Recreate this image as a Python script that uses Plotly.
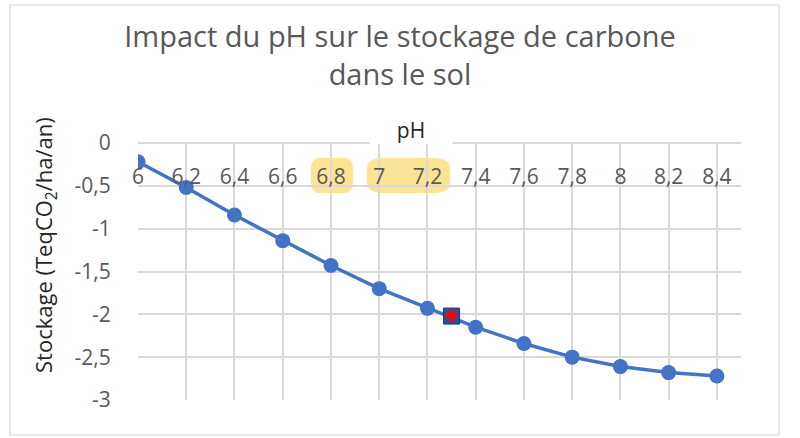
import plotly.graph_objects as go

ph = [6.0, 6.2, 6.4, 6.6, 6.8, 7.0, 7.2, 7.4, 7.6, 7.8, 8.0, 8.2, 8.4]
stockage = [-0.22, -0.52, -0.84, -1.14, -1.43, -1.70, -1.93, -2.15, -2.34, -2.50, -2.61, -2.68, -2.72]
point_ph = [7.3]
point_stock = [-2.02]

x_tickvals = [6.0, 6.2, 6.4, 6.6, 6.8, 7.0, 7.2, 7.4, 7.6, 7.8, 8.0, 8.2, 8.4]
x_ticktext = ["6", "6,2", "6,4", "6,6", "6,8", "7", "7,2", "7,4", "7,6", "7,8", "8", "8,2", "8,4"]
y_tickvals = [0, -0.5, -1, -1.5, -2, -2.5, -3]
y_ticktext = ["0", "-0,5", "-1", "-1,5", "-2", "-2,5", "-3"]

FONT = "Open Sans"
GRID = "#d9d9d9"
TXT = "#595959"

W, H = 800, 438
L, R, T, B = 138, 59, 143, 38
PW, PH = W - L - R, H - T - B


def px_x(p):
    return (p - L) / PW


def px_y(p):
    return (H - B - p) / PH


fig = go.Figure()
fig.add_trace(go.Scatter(x=ph, y=stockage, mode="lines+markers",
                         line=dict(color="#4472C4", width=3.5),
                         marker=dict(color="#4472C4", size=15),
                         showlegend=False, hoverinfo="x+y"))
fig.add_trace(go.Scatter(x=point_ph, y=point_stock, mode="markers",
                         marker=dict(symbol="square", color="#2F4F8F", size=16,
                                     line=dict(color="#1F3864", width=1)),
                         showlegend=False))
fig.add_trace(go.Scatter(x=point_ph, y=point_stock, mode="markers",
                         marker=dict(symbol="cross", color="#FF0000", size=10,
                                     line=dict(width=0)),
                         showlegend=False))


def pill(x0, x1, y0, y1):
    # rounded highlight in paper coordinates
    rx = (x1 - x0) * 0.2
    ry = (y1 - y0) * 0.3
    return (f"M {x0+rx} {y0} L {x1-rx} {y0} Q {x1} {y0} {x1} {y0+ry} "
            f"L {x1} {y1-ry} Q {x1} {y1} {x1-rx} {y1} L {x0+rx} {y1} "
            f"Q {x0} {y1} {x0} {y1-ry} L {x0} {y0+ry} Q {x0} {y0} {x0+rx} {y0} Z")


HL = "#FBE494"
shapes = [
    dict(type="path", xref="paper", yref="paper",
         path=pill(px_x(311), px_x(353), px_y(193), px_y(158)),
         fillcolor=HL, line=dict(width=0), layer="below"),
    dict(type="path", xref="paper", yref="paper",
         path=pill(px_x(367), px_x(450), px_y(193), px_y(158)),
         fillcolor=HL, line=dict(width=0), layer="below"),
    dict(type="rect", xref="paper", yref="paper", x0=px_x(10), x1=px_x(779),
         y0=px_y(435), y1=px_y(5), line=dict(color="#d9d9d9", width=1.2),
         layer="below"),
]

fig.update_layout(
    width=W, height=H,
    margin=dict(l=L, r=R, t=T, b=B),
    paper_bgcolor="white", plot_bgcolor="rgba(0,0,0,0)",
    font=dict(family=FONT, color=TXT, size=21),
    title=dict(text="Impact du pH sur le stockage de carbone<br>dans le sol",
               x=0.5, xanchor="center", xref="container",
               yref="container", y=1 - 47 / H, yanchor="middle",
               font=dict(family=FONT, size=29, color=TXT)),
    xaxis=dict(range=[6, 8.5], anchor="free", position=1.0, side="bottom",
               tickvals=x_tickvals, ticktext=x_ticktext,
               ticks="outside", ticklen=15, tickcolor="rgba(0,0,0,0)",
               showgrid=True, gridcolor=GRID, gridwidth=1.5, zeroline=False,
               showline=True, linecolor=GRID, linewidth=1.5,
               tickfont=dict(size=21, color=TXT)),
    yaxis=dict(range=[-3, 0], tickvals=y_tickvals, ticktext=y_ticktext,
               domain=[0, 1],
               showgrid=True, gridcolor=GRID, gridwidth=1.5, zeroline=False,
               showline=False, ticks="outside", ticklen=22,
               tickcolor="rgba(0,0,0,0)",
               tickfont=dict(size=21, color=TXT)),
    annotations=[
        dict(text="pH", x=px_x(411), y=px_y(130), xref="paper", yref="paper",
             showarrow=False, font=dict(size=21, color="#262626"),
             bgcolor="white", width=80, height=26,
             xanchor="center", yanchor="middle"),
        dict(text="Stockage (TeqCO<sub>2</sub>/ha/an)", x=px_x(45), y=px_y(245),
             xref="paper", yref="paper", textangle=-90, showarrow=False,
             font=dict(size=22, color="#262626"),
             xanchor="center", yanchor="middle"),
    ],
    shapes=shapes,
)

fig.write_html("out.html", config={"displayModeBar": False},
               post_script="document.body.style.margin='0';document.body.style.overflow='hidden';")
